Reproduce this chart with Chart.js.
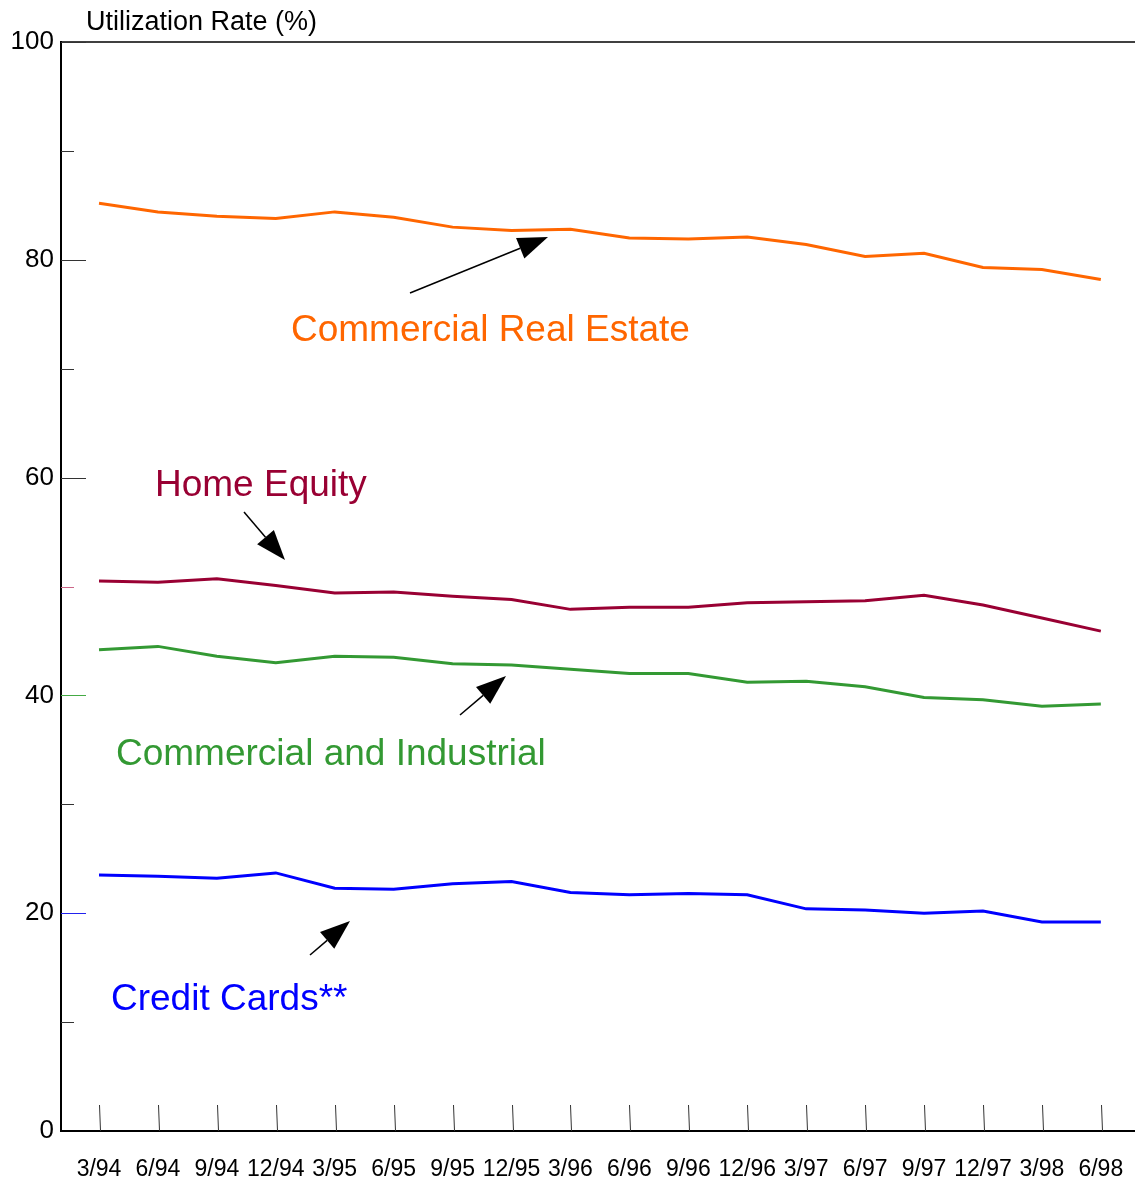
<!DOCTYPE html>
<html>
<head>
<meta charset="utf-8">
<script src="https://cdn.jsdelivr.net/npm/chart.js@4/dist/chart.umd.min.js"></script>
<style>
  body { margin: 0; background: #fff; }
  #wrap { width: 1135px; height: 1182px; position: relative; }
</style>
</head>
<body>
<div id="wrap"><canvas id="chart"></canvas></div>
<script>
'use strict';
// quarters on the x axis
var quarters = ['3/94','6/94','9/94','12/94','3/95','6/95','9/95','12/95','3/96','6/96','9/96','12/96','3/97','6/97','9/97','12/97','3/98','6/98'];
// utilization rate (%) per series
var commercialRealEstate = [85.2,84.4,84.0,83.8,84.4,83.9,83.0,82.7,82.8,82.0,81.9,82.1,81.4,80.3,80.6,79.3,79.1,78.2];
var homeEquity = [50.5,50.4,50.7,50.1,49.4,49.5,49.1,48.8,47.9,48.1,48.1,48.5,48.6,48.7,49.2,48.3,47.1,45.9];
var commercialIndustrial = [44.2,44.5,43.6,43.0,43.6,43.5,42.9,42.8,42.4,42.0,42.0,41.2,41.3,40.8,39.8,39.6,39.0,39.2];
var creditCards = [23.5,23.4,23.2,23.7,22.3,22.2,22.7,22.9,21.9,21.7,21.8,21.7,20.4,20.3,20.0,20.2,19.2,19.2];
var yTickValues = [0,10,20,30,40,50,60,70,80,90,100];

var FONT = 'Liberation Sans, Arial, Helvetica, sans-serif';
var colors = { cre: '#ff6600', he: '#990033', ci: '#339933', cc: '#0000ff' };
// colored inner ticks on the y axis
var yTickColor = { 20: '#2222ee', 40: '#44aa44', 50: '#cc6688' };

// series labels and arrows (pixel positions)
var labels = [
  { text: 'Commercial Real Estate', x: 291, y: 341, color: colors.cre },
  { text: 'Home Equity', x: 155, y: 496, color: colors.he },
  { text: 'Commercial and Industrial', x: 116, y: 765, color: colors.ci },
  { text: 'Credit Cards**', x: 111, y: 1010, color: colors.cc }
];
var arrows = [
  [410, 293, 548, 237],
  [244, 512, 285, 560],
  [460, 715, 506, 676],
  [310, 955, 350, 921]
];

function toPoints(arr){
  return arr.map(function(v, i){ return { x: i, y: v }; });
}

function series(label, arr, color){
  return {
    label: label,
    data: toPoints(arr),
    borderColor: color,
    backgroundColor: color,
    borderWidth: 3,
    pointRadius: 0,
    tension: 0
  };
}

function drawArrow(ctx, x1, y1, x2, y2){
  var ang = Math.atan2(y2 - y1, x2 - x1);
  var headLen = 30, headW = 11;
  var bx = x2 - headLen * Math.cos(ang);
  var by = y2 - headLen * Math.sin(ang);
  ctx.strokeStyle = '#000';
  ctx.lineWidth = 1.5;
  ctx.beginPath();
  ctx.moveTo(x1, y1);
  ctx.lineTo(bx, by);
  ctx.stroke();
  ctx.fillStyle = '#000';
  ctx.beginPath();
  ctx.moveTo(x2, y2);
  ctx.lineTo(bx + headW * Math.sin(ang), by - headW * Math.cos(ang));
  ctx.lineTo(bx - headW * Math.sin(ang), by + headW * Math.cos(ang));
  ctx.closePath();
  ctx.fill();
}

var decorPlugin = {
  id: 'decor',
  afterDraw: function(chart){
    var ctx = chart.ctx;
    var area = chart.chartArea;
    var xs = chart.scales.x, ys = chart.scales.y;
    ctx.save();
    // top frame line
    ctx.strokeStyle = '#000';
    ctx.lineWidth = 1.5;
    ctx.beginPath();
    ctx.moveTo(area.left, area.top);
    ctx.lineTo(area.right, area.top);
    ctx.stroke();
    // y ticks pointing inward
    yTickValues.forEach(function(v){
      if (v === 0) return;
      var py = Math.round(ys.getPixelForValue(v)) + 0.5;
      var len = (v % 20 === 0) ? 25 : 13;
      ctx.strokeStyle = yTickColor[v] || '#333';
      ctx.lineWidth = 1;
      ctx.beginPath();
      ctx.moveTo(area.left, py);
      ctx.lineTo(area.left + len, py);
      ctx.stroke();
    });
    // x ticks pointing up from the axis
    quarters.forEach(function(q, i){
      var px = Math.round(xs.getPixelForValue(i)) + 0.5;
      ctx.strokeStyle = '#333';
      ctx.lineWidth = 1;
      ctx.beginPath();
      ctx.moveTo(px, area.bottom - 26);
      ctx.lineTo(px + 1, area.bottom);
      ctx.stroke();
    });
    // axis title
    ctx.fillStyle = '#000';
    ctx.font = '27px ' + FONT;
    ctx.textBaseline = 'alphabetic';
    ctx.textAlign = 'left';
    ctx.fillText('Utilization Rate (%)', 86, 30);
    // series labels
    ctx.font = '37px ' + FONT;
    labels.forEach(function(l){
      ctx.fillStyle = l.color;
      ctx.fillText(l.text, l.x, l.y);
    });
    arrows.forEach(function(a){ drawArrow(ctx, a[0], a[1], a[2], a[3]); });
    ctx.restore();
  }
};

var chart = new Chart(document.getElementById('chart'), {
  type: 'line',
  data: {
    datasets: [
      series('Commercial Real Estate', commercialRealEstate, colors.cre),
      series('Home Equity', homeEquity, colors.he),
      series('Commercial and Industrial', commercialIndustrial, colors.ci),
      series('Credit Cards**', creditCards, colors.cc)
    ]
  },
  options: {
    responsive: true,
    maintainAspectRatio: false,
    animation: false,
    layout: { padding: { top: 42, right: 0, left: 0, bottom: 0 } },
    plugins: { legend: { display: false }, tooltip: { enabled: false } },
    scales: {
      x: {
        type: 'linear',
        min: -0.645,
        max: 17.58,
        afterFit: function(scale){
          scale.height = 51;
          scale.paddingLeft = 0;
          scale.paddingRight = 0;
        },
        afterBuildTicks: function(scale){
          scale.ticks = quarters.map(function(q, i){ return { value: i }; });
        },
        grid: { display: false, drawTicks: false },
        border: { display: true, color: '#000', width: 2 },
        ticks: {
          autoSkip: false,
          maxRotation: 0,
          padding: 25,
          color: '#000',
          font: { family: FONT, size: 23 },
          callback: function(v){ return quarters[v]; }
        }
      },
      y: {
        min: 0,
        max: 100,
        afterFit: function(scale){
          scale.width = 61;
          scale.paddingTop = 0;
          scale.paddingBottom = 0;
        },
        grid: { display: false, drawTicks: false },
        border: { display: true, color: '#000', width: 2 },
        ticks: {
          stepSize: 10,
          padding: 7,
          color: '#000',
          font: { family: FONT, size: 26 },
          callback: function(v){ return v % 20 === 0 ? String(v) : ''; }
        }
      }
    }
  },
  plugins: [decorPlugin]
});
</script>
</body>
</html>
